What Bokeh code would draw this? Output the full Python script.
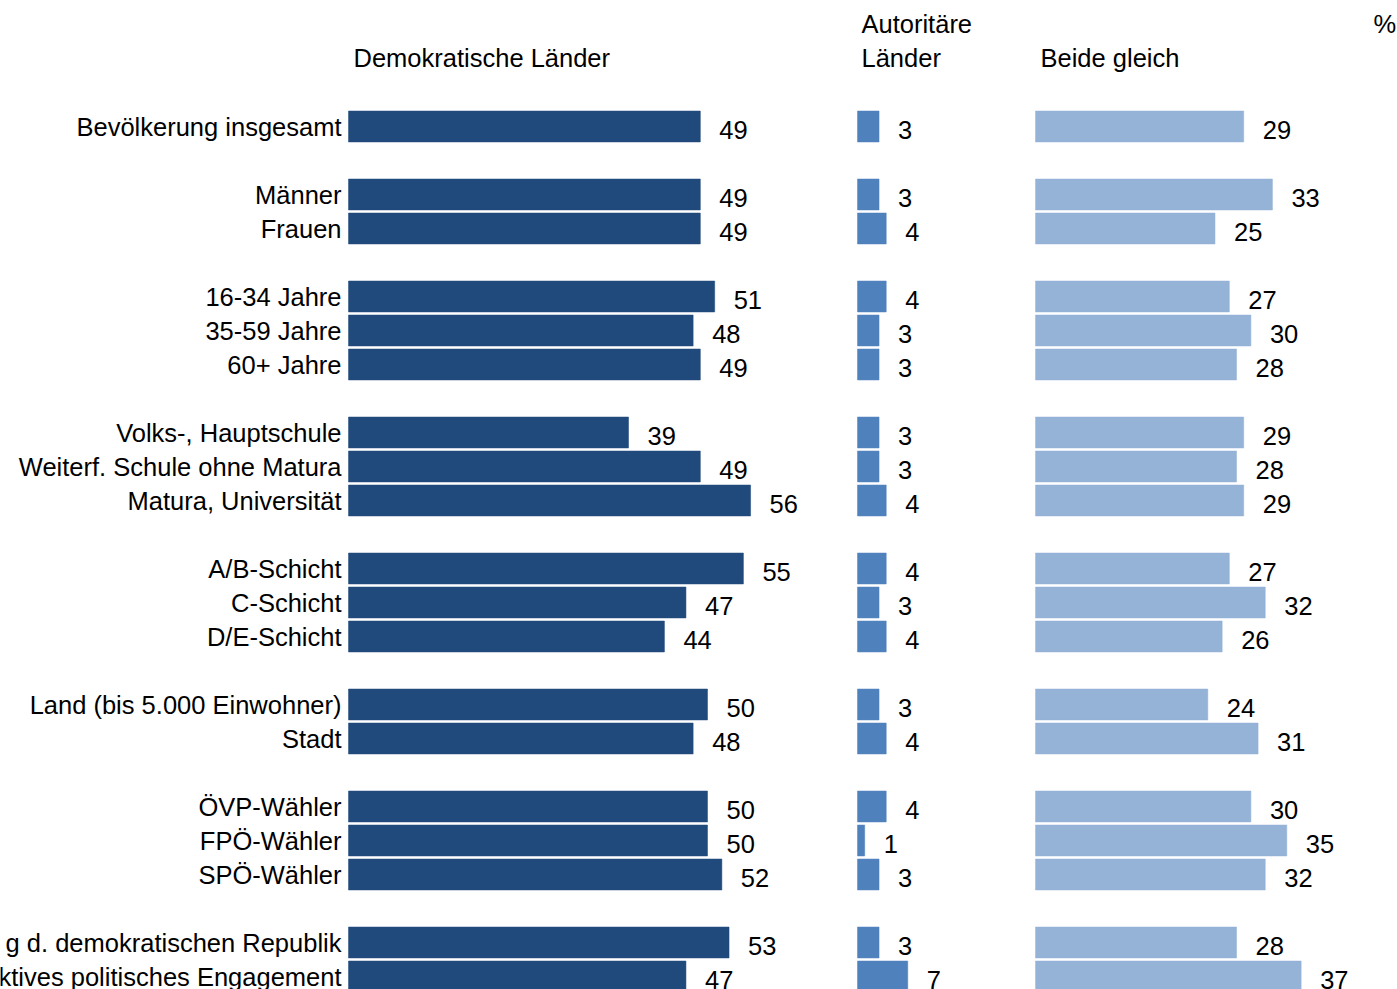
from bokeh.plotting import figure
from bokeh.models import Range1d, ColumnDataSource
from bokeh.core.properties import value
from bokeh.embed import file_html
from bokeh.resources import INLINE

# ---- data ----
categories = ["Bevölkerung insgesamt", "Männer", "Frauen", "16-34 Jahre", "35-59 Jahre",
              "60+ Jahre", "Volks-, Hauptschule", "Weiterf. Schule ohne Matura",
              "Matura, Universität", "A/B-Schicht", "C-Schicht", "D/E-Schicht",
              "Land (bis 5.000 Einwohner)", "Stadt", "ÖVP-Wähler", "FPÖ-Wähler",
              "SPÖ-Wähler", "g d. demokratischen Republik", "ktives politisches Engagement"]
group_sizes = [1, 2, 3, 3, 3, 2, 3, 2]
demokratisch = [49, 49, 49, 51, 48, 49, 39, 49, 56, 55, 47, 44, 50, 48, 50, 50, 52, 53, 47]
autoritaer = [3, 3, 4, 4, 3, 3, 3, 3, 4, 4, 3, 4, 3, 4, 4, 1, 3, 3, 7]
beide = [29, 33, 25, 27, 30, 28, 29, 28, 29, 27, 32, 26, 24, 31, 30, 35, 32, 28, 37]

# ---- layout ----
W, H = 1397, 989
PX = 7.18          # pixels per percentage point
X0 = 348           # pixel where first panel starts
ROW_PX = 34
ROW0_PX = 126
offsets = [0, (857 - X0) / PX, (1035 - X0) / PX]
colors = ["#214A7C", "#4F81BD", "#95B3D7"]
FONT = value("Liberation Sans")
FS = "25.5px"

rows = []
r = 0
for g in group_sizes:
    for _ in range(g):
        rows.append(r)
        r += 1
    r += 1

p = figure(width=W, height=H, output_backend="svg", toolbar_location=None,
           x_range=Range1d(-X0 / PX, (W - X0) / PX),
           y_range=Range1d((H - ROW0_PX) / ROW_PX, -ROW0_PX / ROW_PX),
           min_border=0, outline_line_color=None)
p.axis.visible = False
p.grid.visible = False
p.background_fill_color = "white"
p.border_fill_color = "white"

for k, vals in enumerate([demokratisch, autoritaer, beide]):
    off = offsets[k]
    src = ColumnDataSource(dict(
        y=rows, left=[off] * len(vals), right=[off + v for v in vals],
        lx=[off + v + 19 / PX for v in vals], txt=[str(v) for v in vals]))
    p.hbar(y="y", left="left", right="right", height=0.91, source=src,
           fill_color=colors[k], line_color=colors[k], line_alpha=0.5, line_width=1)
    p.text(x="lx", y="y", text="txt", source=src, text_font=FONT, text_font_size=FS,
           text_baseline="middle", text_align="left", text_color="black", y_offset=3)

# category labels
p.text(x=[-7 / PX] * len(categories), y=rows, text=categories, text_font=FONT,
       text_font_size=FS, text_align="right", text_baseline="middle", text_color="black")

# headers
hy = (57 - ROW0_PX) / ROW_PX
hy2 = (23 - ROW0_PX) / ROW_PX
p.text(x=[5 / PX], y=[hy], text=["Demokratische Länder"], text_font=FONT,
       text_font_size=FS, text_baseline="middle", text_align="left", text_color="black")
p.text(x=[offsets[1] + 4 / PX] * 2, y=[hy2, hy], text=["Autoritäre", "Länder"], text_font=FONT,
       text_font_size=FS, text_baseline="middle", text_align="left", text_color="black")
p.text(x=[offsets[2] + 5 / PX], y=[hy], text=["Beide gleich"], text_font=FONT,
       text_font_size=FS, text_baseline="middle", text_align="left", text_color="black")
p.text(x=[(1373 - X0) / PX], y=[hy2], text=["%"], text_font=FONT,
       text_font_size=FS, text_baseline="middle", text_align="left", text_color="black")

open("out.html", "w").write(file_html(p, INLINE))
